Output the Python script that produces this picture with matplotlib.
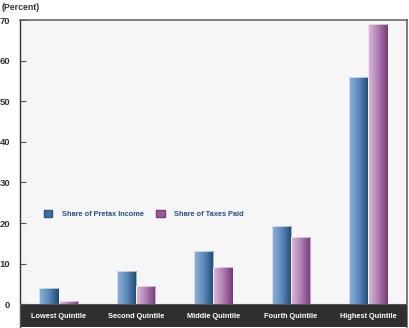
import numpy as np
import matplotlib
matplotlib.use("Agg")
import matplotlib.pyplot as plt
from matplotlib.colors import LinearSegmentedColormap
from matplotlib.patches import Patch, Rectangle

categories = ["Lowest Quintile", "Second Quintile", "Middle Quintile", "Fourth Quintile", "Highest Quintile"]
pretax_income = [4.0, 8.3, 13.0, 19.3, 56.0]
taxes_paid = [0.8, 4.4, 9.1, 16.5, 69.0]
series_names = ["Share of Pretax Income", "Share of Taxes Paid"]
yticks = [0, 10, 20, 30, 40, 50, 60, 70]

plt.rcParams['font.family'] = ['Liberation Sans', 'DejaVu Sans']

fig = plt.figure(figsize=(4.1, 3.28), dpi=100)
ax = fig.add_axes([20/410, 1/328, 387/410, 307/328])
ax.set_facecolor('#f6f6f6')

band_bottom = -5.6
ax.set_xlim(-0.5, len(categories) - 0.5)
ax.set_ylim(band_bottom, 70)

blue_cmap = LinearSegmentedColormap.from_list('b', ['#8db2d8', '#5c89bb', '#1c4878'])
pink_cmap = LinearSegmentedColormap.from_list('p', ['#dcbcdc', '#b07fb2', '#78387c'])
blue_face = '#4f7db0'
pink_face = '#a86aa8'

x = np.arange(len(categories))
w = 0.25
grad = np.linspace(0, 1, 64).reshape(1, -1)

for vals, off, cmap, face in [(pretax_income, -w/2, blue_cmap, blue_face),
                              (taxes_paid, w/2, pink_cmap, pink_face)]:
    bars = ax.bar(x + off, vals, width=w, color=face, edgecolor='none', zorder=2)
    for b in bars:
        x0, y0 = b.get_x(), b.get_y()
        im = ax.imshow(grad, cmap=cmap, aspect='auto', zorder=3,
                       extent=[x0, x0 + b.get_width(), y0, y0 + b.get_height()],
                       interpolation='bilinear')
        im.set_clip_path(b)
        ax.add_patch(Rectangle((x0, y0), b.get_width(), b.get_height(),
                               fill=False, edgecolor='#ffffff', linewidth=0.6,
                               alpha=0.7, zorder=3.5))

ax.axhspan(band_bottom, 0, facecolor='#2f2f2f', edgecolor='#555555', linewidth=0.8, zorder=4)
for i, c in enumerate(categories):
    ax.text(i, band_bottom / 2 - 0.1, c, color='white', fontsize=5.3, fontweight='bold',
            ha='center', va='center', zorder=5)

ax.set_xticks([])
ax.set_yticks(yticks)
ax.set_yticklabels([str(t) for t in yticks], fontsize=6.8, color='#333333', fontweight='bold')
ax.tick_params(axis='y', direction='in', length=4, width=0.8, color='#555555', pad=7)

for s in ['top', 'right']:
    ax.spines[s].set_color('#666666')
    ax.spines[s].set_linewidth(1.2)
ax.spines['left'].set_color('#333333')
ax.spines['left'].set_linewidth(1.0)
ax.spines['bottom'].set_visible(False)

# legend
handles = [Patch(facecolor='#3f6fa6', edgecolor='#2a5585'),
           Patch(facecolor='#9a5c9c', edgecolor='#7a3a7c')]
leg = ax.legend(handles, series_names, ncol=2, frameon=False,
                loc='center left', bbox_to_anchor=(0.062, 0.368),
                handlelength=1.15, handleheight=1.15, handletextpad=1.25,
                columnspacing=1.7, borderaxespad=0, borderpad=0,
                prop={'size': 5.3, 'weight': 'bold'})
for t in leg.get_texts():
    t.set_color('#254f85')

fig.text(2/410, 1 - 8/328, "(Percent)", fontsize=6.3, fontweight='bold',
         color='#333333', ha='left', va='center')

fig.savefig('out.png', dpi=100)
